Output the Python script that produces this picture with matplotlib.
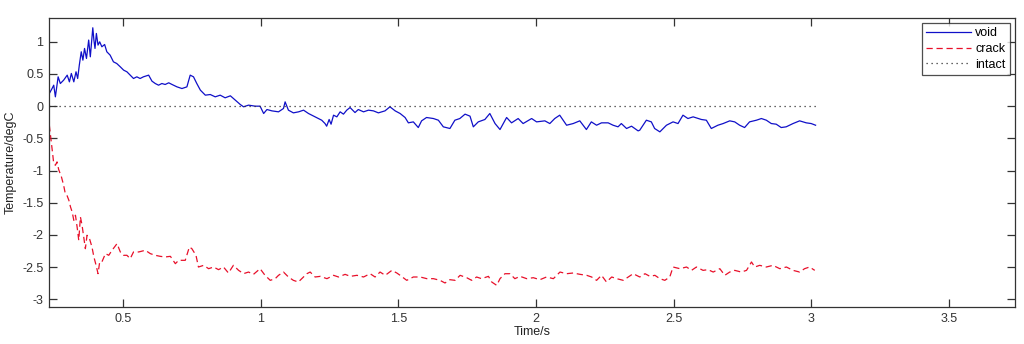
import matplotlib
matplotlib.use("Agg")
import matplotlib.pyplot as plt

plt.rcParams['font.family'] = ['Liberation Sans', 'DejaVu Sans']

void_t = [0.231, 0.241, 0.247, 0.253, 0.263, 0.271, 0.283, 0.296, 0.304, 0.311, 0.320, 0.328, 0.334,
          0.340, 0.347, 0.353, 0.359, 0.366, 0.374, 0.380, 0.389, 0.393, 0.397, 0.402, 0.408, 0.414,
          0.422, 0.432, 0.440, 0.452, 0.464, 0.476, 0.489, 0.501, 0.513, 0.525, 0.537, 0.549, 0.561,
          0.573, 0.592, 0.604, 0.616, 0.628, 0.640, 0.652, 0.665, 0.677, 0.695, 0.713, 0.731, 0.743,
          0.755, 0.767, 0.780, 0.798, 0.816, 0.834, 0.852, 0.870, 0.889, 0.907, 0.925, 0.937,
          0.955, 0.979, 0.997, 1.010, 1.022, 1.040, 1.064, 1.082, 1.088, 1.100, 1.118, 1.137, 1.155,
          1.173, 1.197, 1.221, 1.233, 1.239, 1.248, 1.255, 1.264, 1.276, 1.288, 1.300, 1.312, 1.324,
          1.342, 1.354, 1.373, 1.391, 1.409, 1.427, 1.451, 1.469, 1.488, 1.506, 1.524, 1.536, 1.554,
          1.572, 1.584, 1.602, 1.627, 1.645, 1.663,
          1.687, 1.705, 1.723, 1.742, 1.760, 1.772, 1.790, 1.814, 1.832, 1.851, 1.869, 1.893, 1.911,
          1.935, 1.953, 1.984, 2.002, 2.032, 2.050, 2.068, 2.086, 2.111, 2.135, 2.159, 2.183, 2.201,
          2.220, 2.238, 2.262, 2.280, 2.298, 2.310, 2.329, 2.347, 2.371,
          2.377, 2.401, 2.419, 2.431, 2.450, 2.474, 2.498, 2.516, 2.534, 2.552, 2.571, 2.601, 2.619,
          2.637, 2.661, 2.680, 2.704, 2.722, 2.740, 2.758, 2.776, 2.801, 2.819, 2.837, 2.855, 2.873,
          2.891, 2.909, 2.934, 2.958, 2.982, 3.000, 3.016]
void_v = [0.197, 0.275, 0.326, 0.145, 0.456, 0.352, 0.404, 0.482, 0.378, 0.508, 0.378, 0.534, 0.430,
          0.638, 0.845, 0.715, 0.897, 0.741, 1.027, 0.767, 1.218, 1.027, 0.897, 1.130, 0.949, 1.000,
          0.923, 0.958, 0.845, 0.793, 0.689, 0.663, 0.611, 0.560, 0.534, 0.482, 0.430, 0.456, 0.430,
          0.456, 0.482, 0.389, 0.352, 0.326, 0.352, 0.337, 0.363, 0.337, 0.300, 0.274, 0.300, 0.482,
          0.456, 0.352, 0.249, 0.171, 0.181, 0.145, 0.171, 0.130, 0.161, 0.093, 0.026, -0.010,
          0.016, 0.000, 0.000, -0.114, -0.052, -0.073, -0.088, -0.036, 0.067, -0.062, -0.104, -0.088, -0.062,
          -0.114, -0.166, -0.218, -0.270, -0.311, -0.207, -0.280, -0.140, -0.166, -0.088, -0.124, -0.062, -0.021,
          -0.099, -0.052, -0.088, -0.062, -0.073, -0.104, -0.073, -0.010, -0.073, -0.114, -0.176, -0.259, -0.244,
          -0.332, -0.228, -0.176, -0.192, -0.218, -0.321,
          -0.347, -0.218, -0.192, -0.124, -0.155, -0.321, -0.244, -0.207, -0.114, -0.270, -0.363, -0.176, -0.259,
          -0.192, -0.270, -0.192, -0.244, -0.228, -0.270, -0.192, -0.140, -0.296, -0.270, -0.228, -0.363, -0.244,
          -0.296, -0.259, -0.259, -0.296, -0.321, -0.270, -0.347, -0.311, -0.384,
          -0.373, -0.218, -0.244, -0.347, -0.399, -0.296, -0.244, -0.270, -0.140, -0.192, -0.166, -0.207, -0.218,
          -0.347, -0.296, -0.270, -0.228, -0.244, -0.296, -0.332, -0.244, -0.218, -0.192, -0.218, -0.270, -0.280,
          -0.332, -0.321, -0.270, -0.228, -0.259, -0.270, -0.296]

crack_t = [0.231, 0.239, 0.243, 0.247, 0.253, 0.259, 0.265, 0.275, 0.283, 0.289, 0.295, 0.302, 0.308,
           0.314, 0.320, 0.326, 0.332, 0.338, 0.344, 0.350, 0.356, 0.362, 0.368, 0.377, 0.386, 0.393,
           0.401, 0.408, 0.414, 0.422, 0.435, 0.447, 0.459, 0.477, 0.489, 0.501, 0.513, 0.525, 0.537,
           0.556, 0.580, 0.598, 0.616, 0.634, 0.652, 0.671, 0.689, 0.701, 0.725, 0.740, 0.749, 0.764,
           0.773, 0.792, 0.810, 0.828, 0.846, 0.864, 0.882, 0.900, 0.919, 0.937, 0.955, 0.973, 0.997,
           1.015, 1.034, 1.052, 1.064, 1.082, 1.100, 1.118, 1.136,
           1.167, 1.179, 1.197, 1.216, 1.240, 1.264, 1.282, 1.306, 1.325, 1.349, 1.373, 1.397, 1.415,
           1.433, 1.452, 1.476, 1.494, 1.506, 1.530, 1.554, 1.579, 1.603, 1.627, 1.651, 1.669, 1.687,
           1.706, 1.724, 1.748, 1.766, 1.784, 1.802, 1.827, 1.839, 1.857, 1.869, 1.887, 1.905, 1.923,
           1.942, 1.966, 1.990, 2.014, 2.038, 2.063, 2.087,
           2.111, 2.135, 2.160, 2.184, 2.202, 2.220, 2.238, 2.256, 2.275, 2.293, 2.317, 2.335, 2.353,
           2.377, 2.396, 2.414, 2.432, 2.450, 2.468, 2.486, 2.498, 2.523, 2.547, 2.565, 2.583, 2.607,
           2.625, 2.644, 2.668, 2.686, 2.704, 2.722, 2.746, 2.765, 2.783, 2.795, 2.813, 2.837, 2.861,
           2.886, 2.910, 2.934, 2.958, 2.976, 2.994, 3.013]
crack_v = [-0.296, -0.581, -0.736, -0.892, -0.918, -0.866, -0.985, -1.099, -1.228, -1.358, -1.384, -1.462, -1.566,
           -1.644, -1.773, -1.695, -1.877, -2.084, -1.721, -1.851, -2.032, -2.214, -2.006, -2.058, -2.188, -2.343,
           -2.473, -2.602, -2.421, -2.421, -2.291, -2.317, -2.239, -2.136, -2.265, -2.317, -2.317, -2.369, -2.265,
           -2.265, -2.239, -2.291, -2.317, -2.333, -2.343, -2.333, -2.447, -2.395, -2.395, -2.188, -2.214, -2.317,
           -2.499, -2.473, -2.525, -2.499, -2.540, -2.499, -2.592, -2.473, -2.551, -2.602, -2.577, -2.613, -2.525,
           -2.628, -2.706, -2.680, -2.628, -2.577, -2.654, -2.706, -2.732,
           -2.603, -2.577, -2.654, -2.644, -2.680, -2.628, -2.654, -2.613, -2.644, -2.628, -2.654, -2.603, -2.654,
           -2.577, -2.628, -2.551, -2.592, -2.628, -2.706, -2.654, -2.654, -2.680, -2.680, -2.706, -2.747, -2.696,
           -2.706, -2.628, -2.665, -2.706, -2.654, -2.680, -2.644, -2.732, -2.784, -2.680, -2.603, -2.603, -2.680,
           -2.644, -2.680, -2.665, -2.696, -2.654, -2.680, -2.577,
           -2.603, -2.592, -2.613, -2.628, -2.654, -2.706, -2.628, -2.732, -2.654, -2.680, -2.706, -2.654, -2.603,
           -2.654, -2.603, -2.644, -2.628, -2.680, -2.706, -2.654, -2.499, -2.525, -2.499, -2.551, -2.499, -2.551,
           -2.540, -2.577, -2.525, -2.628, -2.577, -2.551, -2.577, -2.551, -2.421, -2.499, -2.473, -2.499, -2.473,
           -2.525, -2.499, -2.551, -2.577, -2.525, -2.499, -2.551]

intact_t = [0.231, 3.016]
intact_v = [0.0, 0.0]

xticks = [0.5, 1, 1.5, 2, 2.5, 3, 3.5]
xticklabels = ['0.5', '1', '1.5', '2', '2.5', '3', '3.5']
yticks = [1, 0.5, 0, -0.5, -1, -1.5, -2, -2.5, -3]
yticklabels = ['1', '0.5', '0', '-0.5', '-1', '-1.5', '-2', '-2.5', '-3']

fig = plt.figure(figsize=(10.24, 3.44), dpi=100)
ax = fig.add_axes([0.0479, 0.1076, 0.9431, 0.8401])

ax.plot(void_t, void_v, color='#1010c8', lw=0.9, label='void')
ax.plot(crack_t, crack_v, color='#e8102a', lw=0.9, ls=(0, (5, 3)), label='crack')
ax.plot(intact_t, intact_v, color='#333333', lw=0.9, ls=(0, (1, 3)), label='intact')

ax.set_xlim(0.23, 3.74)
ax.set_ylim(-3.12, 1.37)
ax.set_xticks(xticks)
ax.set_xticklabels(xticklabels)
ax.set_yticks(yticks)
ax.set_yticklabels(yticklabels)
ax.tick_params(direction='in', length=6, width=0.9, top=True, right=True,
               labelsize=9, colors='#333333', pad=4)
for s in ax.spines.values():
    s.set_color('#333333')
    s.set_linewidth(0.9)

ax.set_xlabel('Time/s', fontsize=9, color='#222222', labelpad=1)
ax.set_ylabel('Temperature/degC', fontsize=9, color='#222222', labelpad=4)

leg = ax.legend(loc='upper right', fontsize=9, frameon=True, fancybox=False,
                edgecolor='#222222', handlelength=3.6, handletextpad=0.3,
                borderpad=0.35, labelspacing=0.3, borderaxespad=0.4)
leg.get_frame().set_linewidth(0.9)

fig.savefig('out.png', dpi=100)
